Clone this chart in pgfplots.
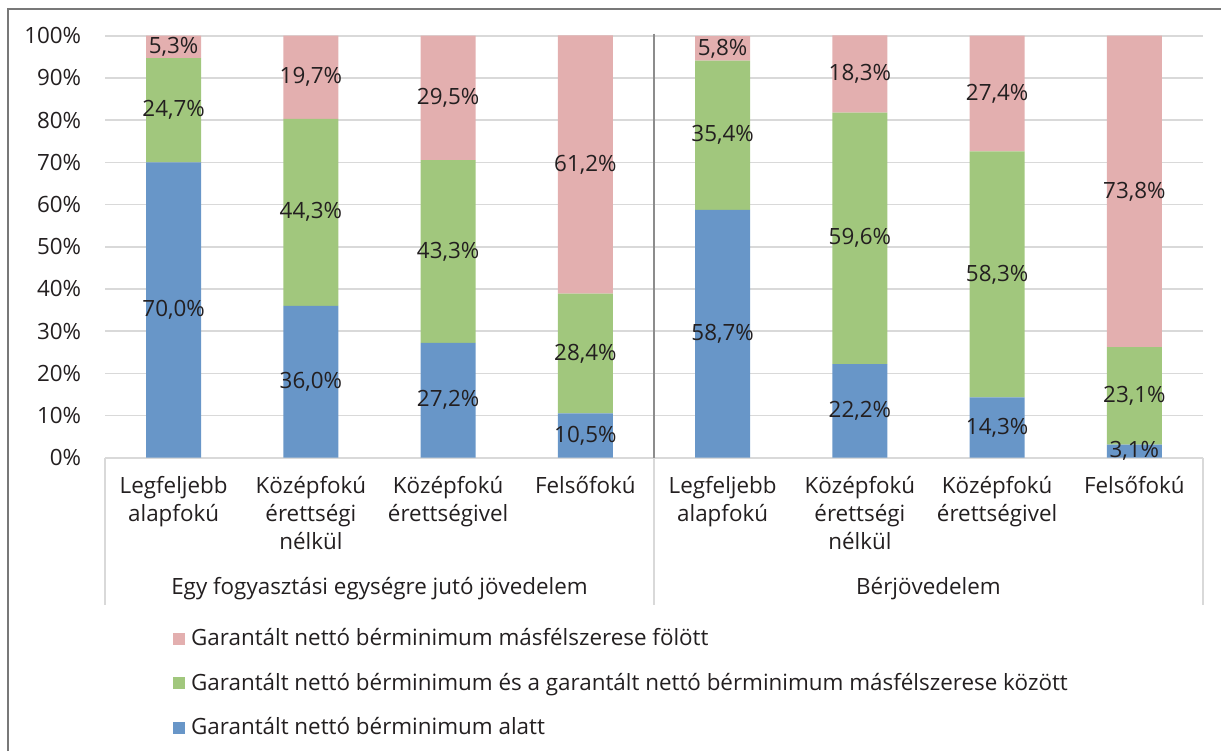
\documentclass[border=0pt]{standalone}
\usepackage{pgfplots}
\pgfplotsset{compat=1.18}
\usepackage{fontspec}
\setmainfont{Open Sans}
\definecolor{cblue}{RGB}{104,150,200}
\definecolor{cgreen}{RGB}{161,199,125}
\definecolor{cpink}{RGB}{227,175,175}
\definecolor{txt}{RGB}{35,31,32}
\definecolor{gridc}{RGB}{217,217,217}
\definecolor{sepd}{RGB}{140,140,140}
\definecolor{frame}{RGB}{120,120,120}
\newcommand{\fs}{\fontsize{11.2}{14}\selectfont}
\pgfplotsset{sqleg/.style={legend image code/.code={\fill[##1] (0pt,-3pt) rectangle (6pt,3pt);}}}
\pgfplotstableread{
x blue green pink
0 70.0 24.7 5.3
1 36.0 44.3 19.7
2 27.2 43.3 29.5
3 10.5 28.4 61.2
4 58.7 35.4 5.8
5 22.2 59.6 18.3
6 14.3 58.3 27.4
7 3.1 23.1 73.8
}\datatab
\pgfplotstableread{
x y v
0 35.0 70.0
0 82.35 24.7
0 97.35 5.3
1 18.0 36.0
1 58.15 44.3
1 90.15 19.7
2 13.6 27.2
2 48.85 43.3
2 85.25 29.5
3 5.25 10.5
3 24.7 28.4
3 69.5 61.2
4 29.35 58.7
4 76.4 35.4
4 97.0 5.8
5 11.1 22.2
5 52.0 59.6
5 90.95 18.3
6 7.15 14.3
6 43.45 58.3
6 86.3 27.4
7 1.55 3.1
7 14.65 23.1
7 63.1 73.8
}\labtab
\begin{document}
\fs
\begin{tikzpicture}[text=txt]
\useasboundingbox (0,0) rectangle (610.5pt,375.5pt);
\draw[frame, line width=1pt] (4pt,0) -- (4pt,371pt) -- (612pt,371pt);
\begin{axis}[
  at={(52.5pt,146.65pt)}, anchor=south west,
  scale only axis, width=549pt, height=211pt,
  xmin=-0.5, xmax=7.5, ymin=0, ymax=100,
  ybar stacked, bar width=0.4,
  axis x line*=bottom, axis y line*=left,
  y axis line style={draw=none},
  x axis line style={draw=gridc, line width=0.8pt},
  major tick length=0pt,
  ymajorgrids, grid style={draw=gridc, line width=0.8pt},
  ytick={0,10,...,100},
  /pgf/number format/assume math mode=true,
  yticklabel={\pgfmathprintnumber{\tick}\%},
  yticklabel style={font=\fs, xshift=-8pt},
  xtick=data,
  xticklabels={{Legfeljebb\\alapfokú},{Középfokú\\érettségi\\nélkül},{Középfokú\\érettségivel},{Felsőfokú},{Legfeljebb\\alapfokú},{Középfokú\\érettségi\\nélkül},{Középfokú\\érettségivel},{Felsőfokú}},
  xticklabel style={align=center, anchor=north, yshift=-5.5pt, font=\fs},
  clip=false,
  reverse legend,
  legend cell align=left,
  legend style={at={(axis description cs:0.062,-0.40)}, anchor=north west, draw=none, fill=none,
    inner sep=0pt, outer sep=0pt, row sep=10pt,
    nodes={inner sep=1pt, anchor=west, font=\fs, text=txt}},
]
\addplot[fill=cblue, draw=none, sqleg] table[x=x, y=blue] {\datatab};
\addplot[fill=cgreen, draw=none, sqleg] table[x=x, y=green] {\datatab};
\addplot[fill=cpink, draw=none, sqleg] table[x=x, y=pink] {\datatab};
\legend{\hspace{2pt}Garantált nettó bérminimum alatt, \hspace{2pt}Garantált nettó bérminimum és a garantált nettó bérminimum másfélszerese között, \hspace{2pt}Garantált nettó bérminimum másfélszerese fölött}
\draw[sepd, line width=0.6pt] (axis cs:3.5,100.5) -- (axis cs:3.5,0);
\draw[gridc, line width=0.8pt] (axis cs:3.5,0) -- ([yshift=-73.6pt]axis cs:3.5,0);
\draw[gridc, line width=0.8pt] (axis cs:-0.5,0) -- ([yshift=-73.6pt]axis cs:-0.5,0);
\draw[gridc, line width=0.8pt] (axis cs:7.5,0) -- ([yshift=-73.6pt]axis cs:7.5,0);
\node[font=\fs] at ([yshift=-65.5pt]axis cs:1.5,0) {Egy fogyasztási egységre jutó jövedelem};
\node[font=\fs] at ([yshift=-65.5pt]axis cs:5.5,0) {Bérjövedelem};
\end{axis}
\begin{axis}[
  at={(52.5pt,146.65pt)}, anchor=south west,
  scale only axis, width=549pt, height=211pt,
  xmin=-0.5, xmax=7.5, ymin=0, ymax=100,
  hide axis, clip=false,
]
\addplot[draw=none, mark=none, point meta=explicit,
  nodes near coords={\pgfmathprintnumber[fixed,fixed zerofill,precision=1,use comma,assume math mode=true]{\pgfplotspointmeta}\%},
  every node near coord/.append style={anchor=center, font=\fs, text=txt}]
  table[x=x, y=y, meta=v] {\labtab};
\end{axis}
\end{tikzpicture}
\end{document}
